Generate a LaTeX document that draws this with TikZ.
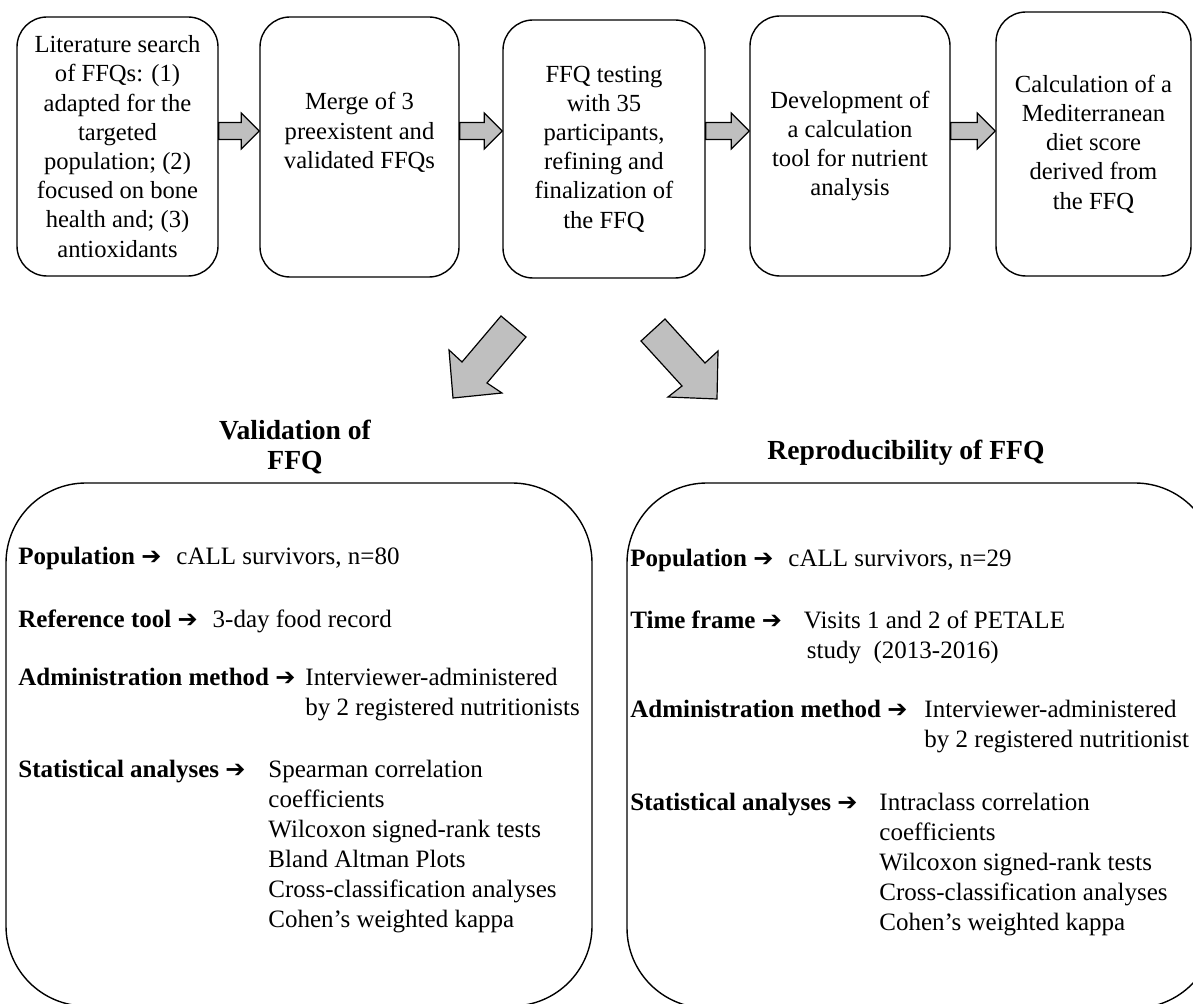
\documentclass[tikz,border=0pt]{standalone}
\usepackage{fontspec}
\setmainfont{Liberation Serif}
\newfontfamily\symfont{DejaVu Sans}
\usetikzlibrary{calc}
\newcommand\headarr{{\symfont\fontsize{12}{12}\selectfont ➔}}
\tikzset{
  stepbox/.style={draw,line width=0.7pt,rounded corners=15pt,align=center,inner sep=2pt,font=\fontsize{12.3}{14.6}\selectfont},
  panel/.style={draw,line width=0.7pt,rounded corners=40pt,inner sep=0pt},
  paneltitle/.style={align=center,font=\bfseries\fontsize{13.8}{15}\selectfont},
  item/.style={anchor=base west,inner sep=0pt,font=\fontsize{12.5}{15}\selectfont},
  blockarr/.style={draw,line width=0.6pt,fill=black!25,line join=miter}
}
\newcommand\blockarrow[2]{%
  \coordinate (s) at (#1.east |- arrowrow);
  \coordinate (t) at (#2.west |- arrowrow);
  \draw[blockarr] ($(s)+(0,-8.5)$) -- ($(t)+(-18,-8.5)$) -- ($(t)+(-18,-18)$) -- (t)
    -- ($(t)+(-18,18)$) -- ($(t)+(-18,8.5)$) -- ($(s)+(0,8.5)$) -- cycle;}
\begin{document}
\begin{tikzpicture}[x=0.5pt,y=-0.5pt]
\useasboundingbox (0,0) rectangle (1193,1004);
\coordinate (arrowrow) at (0,131);
\node[stepbox,minimum width=100.5pt,minimum height=129.5pt] (lit) at (117.5,146.5) {Literature search\\of FFQs: (1)\\adapted for the\\targeted\\population; (2)\\focused on bone\\health and; (3)\\antioxidants};
\node[stepbox,minimum width=99.5pt,minimum height=130pt] (merge) at (359.5,147) {Merge of 3\\preexistent and\\validated FFQs\\[2pt]\mbox{}};
\node[stepbox,minimum width=101pt,minimum height=129pt] (test) at (604,149) {FFQ testing\\with 35\\participants,\\refining and\\finalization of\\the FFQ};
\node[stepbox,minimum width=100pt,minimum height=130pt] (tool) at (850,146) {Development of\\a calculation\\tool for nutrient\\analysis};
\node[stepbox,minimum width=97.5pt,minimum height=132pt] (score) at (1093.5,144) {Calculation of a\\Mediterranean\\diet score\\derived from\\the FFQ};
\blockarrow{lit}{merge}
\blockarrow{merge}{test}
\blockarrow{test}{tool}
\blockarrow{tool}{score}
\draw[blockarr] (501,316) -- (526,337) -- (487,383) -- (502,393) -- (453,398) -- (449,350) -- (462,362) -- cycle;
\draw[blockarr] (665,319) -- (641,341) -- (682,386) -- (668,397) -- (717,399) -- (718,351) -- (705,363) -- cycle;
\node[paneltitle] (valtitle) at (295,447) {Validation of\\FFQ};
\node[paneltitle] (reptitle) at (906,453) {Reproducibility of FFQ};
\node[panel,minimum width=293pt,minimum height=261.5pt] (valbox) at (299,744.5) {};
\node[panel,minimum width=294pt,minimum height=262.5pt] (repbox) at (921,745.5) {};
\node[item] (pop1) at (18,565) {\textbf{Population} \headarr\hspace{7.5pt}cALL survivors, n=80};
\node[item] (ref1) at (18,627) {\textbf{Reference tool} \headarr\hspace{7.5pt}3-day food record};
\node[item] (adm1) at (18,685) {\textbf{Administration method} \headarr\hspace{5pt}\begin{tabular}[t]{@{}l@{}}Interviewer-administered\\by 2 registered nutritionists\end{tabular}};
\node[item] (stat1) at (18,777) {\textbf{Statistical analyses} \headarr\hspace{11.5pt}\begin{tabular}[t]{@{}l@{}}Spearman correlation\\coefficients\\Wilcoxon signed-rank tests\\Bland Altman Plots\\Cross-classification analyses\\Cohen’s weighted kappa\end{tabular}};
\node[item] (pop2) at (630,567) {\textbf{Population} \headarr\hspace{7.5pt}cALL survivors, n=29};
\node[item] (time2) at (630,629) {\textbf{Time frame} \headarr\hspace{11pt}\begin{tabular}[t]{@{}l@{}}Visits 1 and 2 of PETALE\\\hspace{1.5pt}study\ \ (2013-2016)\end{tabular}};
\node[item] (adm2) at (630,717) {\textbf{Administration method} \headarr\hspace{8.5pt}\begin{tabular}[t]{@{}l@{}}Interviewer-administered\\by 2 registered nutritionist\end{tabular}};
\node[item] (stat2) at (630,810) {\textbf{Statistical analyses} \headarr\hspace{11pt}\begin{tabular}[t]{@{}l@{}}Intraclass correlation\\coefficients\\Wilcoxon signed-rank tests\\Cross-classification analyses\\Cohen’s weighted kappa\end{tabular}};
\end{tikzpicture}
\end{document}
